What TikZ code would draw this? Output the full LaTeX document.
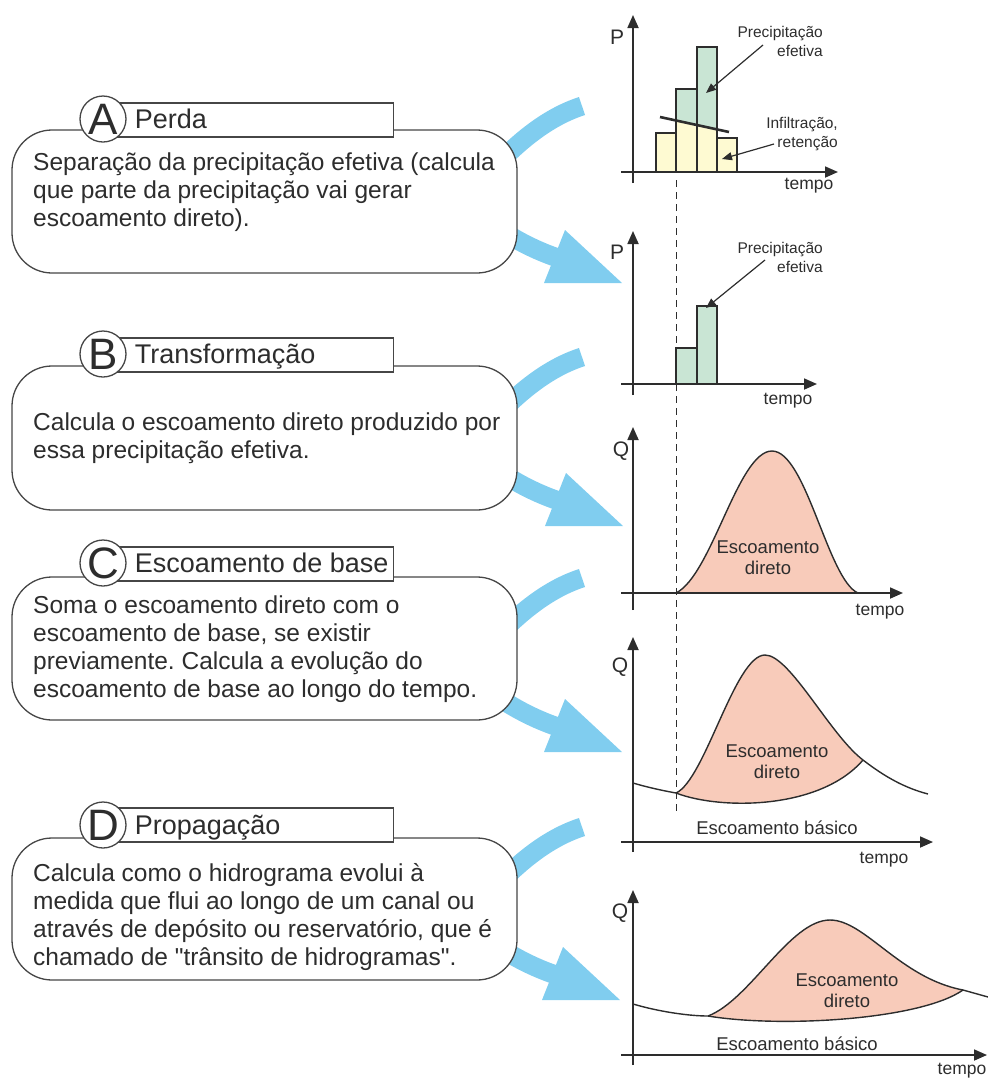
\documentclass[tikz,border=0pt]{standalone}
\usepackage{fontspec}
\setmainfont{Liberation Sans}
\usetikzlibrary{arrows.meta,positioning,calc}
\definecolor{ink}{RGB}{45,45,45}
\definecolor{edge}{RGB}{70,70,70}
\definecolor{flowfx}{RGB}{128,205,239}
\definecolor{rainfx}{RGB}{201,229,212}
\definecolor{lossfx}{RGB}{254,250,210}
\definecolor{runfx}{RGB}{248,203,186}
\frenchspacing
\begin{document}
\begin{tikzpicture}[x=1pt, y=-1pt,
    box/.style={draw=edge, line width=1.3pt, fill=white, rounded corners=40pt, minimum width=505pt, inner sep=0pt},
    tag/.style={draw=edge, line width=1.3pt, fill=white, minimum width=290pt, minimum height=34pt, inner sep=0pt, anchor=west},
    badge/.style={draw=edge, line width=1.3pt, fill=white, circle, minimum size=46pt, inner sep=0pt, text=ink, font=\fontsize{44}{44}\selectfont},
    heading/.style={inner sep=0pt, text=ink, text height=19.5pt, text depth=0pt, font=\fontsize{27}{30}\selectfont},
    desc/.style={anchor=north west, align=left, inner sep=0pt, text=ink, font=\fontsize{24.5}{28}\selectfont},
    band/.style={draw=flowfx, line width=19pt},
    flowtip/.style={fill=flowfx},
    axis/.style={draw=ink, line width=1.8pt, -{Triangle[length=13pt,width=11pt]}},
    bar/.style={draw=ink, line width=1.3pt},
    curve/.style={draw=ink, line width=1.4pt},
    pointer/.style={draw=ink, line width=1.2pt, -{Triangle[length=10pt,width=8pt]}},
    lbl/.style={inner sep=0pt, text=ink, font=\fontsize{15.5}{19.5}\selectfont},
    timelbl/.style={inner sep=0pt, text=ink, font=\fontsize{17.5}{20}\selectfont},
    sym/.style={inner sep=0pt, text=ink, font=\fontsize{21}{21}\selectfont},
    runoff/.style={inner sep=0pt, text=ink, align=center, font=\fontsize{18.5}{21}\selectfont}]
  \useasboundingbox (0,0) rectangle (988,1080);

  % blue flow arrows (behind the boxes)
  \coordinate (endA) at (582,106); \coordinate (tipA) at (622,283);
  \coordinate (endB) at (582,357); \coordinate (tipB) at (623,526);
  \coordinate (endC) at (582,578); \coordinate (tipC) at (622,752);
  \coordinate (endD) at (582,827); \coordinate (tipD) at (620,1000);
  \draw[band] ($(endA)+(-92,66)$) .. controls +(25,-27) and +(-37,12) .. (endA);
  \draw[band] ($(endB)+(-92,66)$) .. controls +(25,-27) and +(-37,12) .. (endB);
  \draw[band] ($(endC)+(-92,66)$) .. controls +(25,-27) and +(-37,12) .. (endC);
  \draw[band] ($(endD)+(-92,66)$) .. controls +(25,-27) and +(-37,12) .. (endD);
  \draw[band] ($(tipA)+(-127,-57)$) .. controls +(20,14) and +(-21,-7) .. ($(tipA)+(-64,-25)$);
  \draw[band] ($(tipB)+(-127,-57)$) .. controls +(20,14) and +(-21,-7) .. ($(tipB)+(-64,-25)$);
  \draw[band] ($(tipC)+(-127,-57)$) .. controls +(20,14) and +(-21,-7) .. ($(tipC)+(-64,-25)$);
  \draw[band] ($(tipD)+(-127,-57)$) .. controls +(20,14) and +(-21,-7) .. ($(tipD)+(-64,-25)$);
  \fill[flowtip] (tipA) -- ++(-57,-53) -- ++(-21,53) -- cycle;
  \fill[flowtip] (tipB) -- ++(-57,-53) -- ++(-21,53) -- cycle;
  \fill[flowtip] (tipC) -- ++(-57,-53) -- ++(-21,53) -- cycle;
  \fill[flowtip] (tipD) -- ++(-57,-53) -- ++(-21,53) -- cycle;

  % A - Perda
  \node[box, minimum height=143pt] (boxA) at (264.5,201.5) {};
  \node[tag] (tagA) at (103,120) {};
  \node[badge] (badgeA) at (103,119) {A};
  \node[heading, right=8pt of badgeA] {Perda};
  \node[desc] at (33,153) {Separação da precipitação efetiva (calcula\\que parte da precipitação vai gerar\\escoamento direto).};

  % B - Transformacao
  \node[box, minimum height=144pt] (boxB) at (264.5,438) {};
  \node[tag] (tagB) at (103,355) {};
  \node[badge] (badgeB) at (103,354) {B};
  \node[heading, right=8pt of badgeB] {Transformação};
  \node[desc] at (33,413) {Calcula o escoamento direto produzido por\\essa precipitação efetiva.};

  % C - Escoamento de base
  \node[box, minimum height=143pt] (boxC) at (264.5,648.5) {};
  \node[tag] (tagC) at (103,564) {};
  \node[badge] (badgeC) at (103,563) {C};
  \node[heading, right=8pt of badgeC] {Escoamento de base};
  \node[desc] at (33,596) {Soma o escoamento direto com o\\escoamento de base, se existir\\previamente. Calcula a evolução do\\escoamento de base ao longo do tempo.};

  % D - Propagacao
  \node[box, minimum height=142pt] (boxD) at (264.5,909) {};
  \node[tag] (tagD) at (103,825) {};
  \node[badge] (badgeD) at (103,825) {D};
  \node[heading, right=8pt of badgeD] {Propagação};
  \node[desc] at (33,863) {Calcula como o hidrograma evolui à\\medida que flui ao longo de um canal ou\\através de depósito ou reservatório, que é\\chamado de \textquotedbl trânsito de hidrogramas\textquotedbl.};

  % start of effective rain
  \draw[ink, line width=1pt, dash pattern=on 7pt off 5pt] (676,180) -- (676,812);

  % chart 1: hyetograph with losses
  \fill[lossfx] (656,172) rectangle (676,133) (717,172) rectangle (737,138);
  \fill[lossfx] (676,172) -- (676,120.5) -- (717,129.4) -- (717,172) -- cycle;
  \fill[rainfx] (676,120.5) -- (676,89) -- (697,89) -- (697,47) -- (717,47) -- (717,129.4) -- cycle;
  \draw[bar] (656,172) rectangle (676,133) (676,172) rectangle (697,89) (697,172) rectangle (717,47) (717,172) rectangle (737,138);
  \draw[ink, line width=2.6pt] (660,117) -- (729,132);
  \draw[axis] (621,172) -- (838,172);
  \draw[axis] (633,183) -- (633,15);
  \node[sym] (p1) at (617,37) {P};
  \node[timelbl] (t1) at (809,186) {tempo};
  \node[lbl, align=right, anchor=north east] (prec1) at (823,26) {Precipitação\\efetiva};
  \node[lbl, align=right, anchor=north east] (loss1) at (838,117) {Infiltração,\\retenção};
  \coordinate (rain1) at (706,93); \coordinate (dry1) at (722,159);
  \draw[pointer] (763,45) -- (rain1);
  \draw[pointer] (774,144) -- (dry1);

  % chart 2: effective hyetograph
  \fill[rainfx] (676,384) rectangle (697,348) (697,384) rectangle (717,306);
  \draw[bar] (676,384) rectangle (697,348) (697,384) rectangle (717,306);
  \draw[axis] (621,384) -- (817,384);
  \draw[axis] (633,395) -- (633,231);
  \node[sym] (p2) at (617,252) {P};
  \node[timelbl] (t2) at (788,401) {tempo};
  \node[lbl, align=right, anchor=north east] (prec2) at (823,242) {Precipitação\\efetiva};
  \coordinate (rain2) at (706,308);
  \draw[pointer] (765,260) -- (rain2);

  % chart 3: direct runoff
  \filldraw[fill=runfx, curve] (676,593) .. controls (712,575) and (738,451) .. (772,451) .. controls (806,451) and (828,580) .. (858,593) -- cycle;
  \draw[axis] (621,593) -- (903,593);
  \draw[axis] (633,610) -- (633,427);
  \node[sym] (q3) at (621,451) {Q};
  \node[timelbl] (t3) at (880,612) {tempo};
  \node[runoff] at (768,558) {Escoamento\\direto};

  % chart 4: direct runoff over base flow
  \fill[runfx] (676,793) .. controls (705,780) and (735,655) .. (765,655) .. controls (790,655) and (830,735) .. (863,760) .. controls (820,810) and (720,810) .. (676,793) -- cycle;
  \draw[curve] (633,783) .. controls (650,788) and (665,791) .. (676,793) .. controls (705,780) and (735,655) .. (765,655) .. controls (790,655) and (830,735) .. (863,760) .. controls (885,777) and (905,788) .. (928,794);
  \draw[curve] (863,760) .. controls (820,810) and (720,810) .. (676,793);
  \draw[axis] (621,842) -- (933,842);
  \draw[axis] (633,852) -- (633,637);
  \node[sym] (q4) at (620,667) {Q};
  \node[timelbl] (t4) at (884,860) {tempo};
  \node[runoff] at (777,762) {Escoamento\\direto};
  \node[runoff] at (777,828) {Escoamento básico};

  % chart 5: routed hydrograph
  \fill[runfx] (708,1016) .. controls (750,1000) and (790,920) .. (830,920) .. controls (865,920) and (900,978) .. (963,990) .. controls (920,1020) and (780,1028) .. (708,1016) -- cycle;
  \draw[curve] (633,1004) .. controls (660,1012) and (690,1016) .. (708,1016) .. controls (750,1000) and (790,920) .. (830,920) .. controls (865,920) and (900,978) .. (963,990) -- (988,997);
  \draw[curve] (963,990) .. controls (920,1020) and (780,1028) .. (708,1016);
  \draw[axis] (621,1055) -- (987,1055);
  \draw[axis] (633,1065) -- (633,890);
  \node[sym] (q5) at (620,913) {Q};
  \node[timelbl] (t5) at (962,1071) {tempo};
  \node[runoff] at (847,991) {Escoamento\\direto};
  \node[runoff] at (797,1044) {Escoamento básico};
\end{tikzpicture}
\end{document}
